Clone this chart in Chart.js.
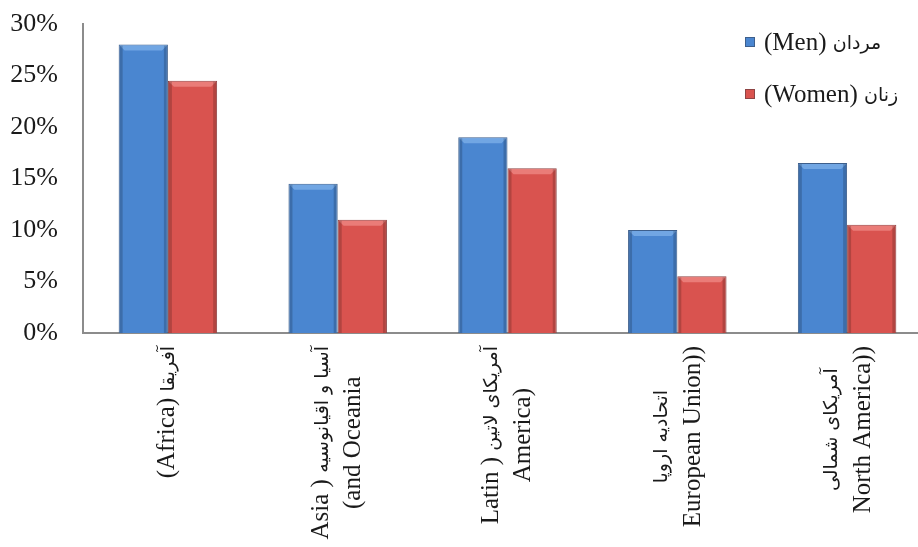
<!DOCTYPE html>
<html>
<head>
<meta charset="utf-8">
<script src="https://cdn.jsdelivr.net/npm/chart.js@4/dist/chart.umd.min.js"></script>
<style>
  html, body { margin: 0; padding: 0; background: #fff; overflow: hidden; }
  #wrap { width: 940px; height: 547px; }
</style>
</head>
<body>
<div id="wrap"><canvas id="c" width="940" height="547"></canvas></div>
<script>
// ---- data ----
const categories = [
  ["(Africa) آفریقا"],
  ["Asia ) آسیا و اقیانوسیه", "(and Oceania"],
  ["Latin ) آمریکای لاتین", "America)"],
  ["اتحادیه اروپا", "European Union))"],
  ["آمریکای شمالی", "North America))"]
];
const seriesNames = ["(Men) مردان", "(Women) زنان"];
const menValues = [28, 14.5, 19, 10, 16.5];
const womenValues = [24.5, 11, 16, 5.5, 10.5];
const yTickStep = 5;
const yMax = 30;

const SERIF = '"Liberation Serif", "Times New Roman", serif';
const ARABIC = '"DejaVu Sans", sans-serif';
const BLUE = '#4a86d0', BLUE_EDGE = '#3d5f8c', BLUE_HI = '#7fb0ea';
const RED = '#d9534f', RED_EDGE = '#8e4444', RED_HI = '#ef8a86';

function runs(str) {
  const re = /([\u0600-\u06FF][\u0600-\u06FF\u200c\s]*[\u0600-\u06FF]|[\u0600-\u06FF])/g;
  const out = [];
  let last = 0, m;
  while ((m = re.exec(str))) {
    if (m.index > last) out.push({ t: str.slice(last, m.index), ar: false });
    out.push({ t: m[0], ar: true });
    last = m.index + m[0].length;
  }
  if (last < str.length) out.push({ t: str.slice(last), ar: false });
  return out;
}
function fontFor(r, latinSize, arSize) {
  return r.ar ? (arSize + 'px ' + ARABIC) : (latinSize + 'px ' + SERIF);
}
function measureMixed(ctx, str, ls, as) {
  let w = 0;
  runs(str).forEach(r => { ctx.font = fontFor(r, ls, as); w += ctx.measureText(r.t).width; });
  return w;
}
function drawMixed(ctx, str, x, y, ls, as) {
  ctx.textAlign = 'left';
  runs(str).forEach(r => {
    ctx.font = fontFor(r, ls, as);
    ctx.fillText(r.t, x, y + (r.ar ? 1 : 0));
    x += ctx.measureText(r.t).width;
  });
}

const X_LATIN = 25, X_AR = 19;

// rotated, centred multi-line category labels at the scale's tick positions
const xLabelPlugin = {
  id: 'xLabels',
  afterDraw(chart) {
    const ctx = chart.ctx;
    const xs = chart.scales.x;
    const top = xs.top + 13;
    const lh = 32;
    ctx.save();
    ctx.fillStyle = '#1a1a1a';
    ctx.textBaseline = 'middle';
    categories.forEach((lines, i) => {
      const x = xs.getPixelForTick(i);
      const widths = lines.map(l => measureMixed(ctx, l, X_LATIN, X_AR));
      const maxW = Math.max(...widths);
      const cy = top + maxW / 2;
      ctx.save();
      ctx.translate(x, cy);
      ctx.rotate(-Math.PI / 2);
      lines.forEach((l, j) => {
        drawMixed(ctx, l, -widths[j] / 2, (j - (lines.length - 1) / 2) * lh, X_LATIN, X_AR);
      });
      ctx.restore();
    });
    ctx.restore();
  }
};

// bevel highlight on each bar, using the library's bar elements
const bevelPlugin = {
  id: 'bevel',
  afterDatasetsDraw(chart) {
    const ctx = chart.ctx;
    chart.data.datasets.forEach((ds, di) => {
      const meta = chart.getDatasetMeta(di);
      const hi = di === 0 ? BLUE_HI : RED_HI;
      meta.data.forEach(el => {
        const l = el.x - el.width / 2 + 1, r = el.x + el.width / 2 - 1;
        const t = el.y + 1;
        ctx.save();
        ctx.globalAlpha = 0.75;
        ctx.fillStyle = hi;
        ctx.beginPath();
        ctx.moveTo(l, t);
        ctx.lineTo(r, t);
        ctx.lineTo(r - 5, t + 5);
        ctx.lineTo(l + 5, t + 5);
        ctx.closePath();
        ctx.fill();
        ctx.globalAlpha = 0.18;
        ctx.fillStyle = '#000';
        ctx.fillRect(l, t, 3, el.base - t);
        ctx.fillRect(r - 3, t, 3, el.base - t);
        ctx.restore();
      });
    });
  }
};

// legend drawn inside the chart area, top right
const legendPlugin = {
  id: 'cornerLegend',
  afterDraw(chart) {
    const ctx = chart.ctx;
    ctx.save();
    ctx.textBaseline = 'middle';
    chart.data.datasets.forEach((d, k) => {
      const cy = 42 + k * 52;
      const sx = 745, sy = cy - 5;
      ctx.fillStyle = d.backgroundColor;
      ctx.fillRect(sx, sy, 10, 10);
      ctx.strokeStyle = d.borderColor;
      ctx.lineWidth = 1;
      ctx.strokeRect(sx + 0.5, sy + 0.5, 9, 9);
      ctx.fillStyle = '#1a1a1a';
      drawMixed(ctx, d.label, 764, cy + 1, 25, 19);
    });
    ctx.restore();
  }
};

new Chart(document.getElementById('c'), {
  type: 'bar',
  data: {
    labels: categories.map(c => c.join(' ')),
    datasets: [
      { label: seriesNames[0], data: menValues, backgroundColor: BLUE, borderColor: BLUE_EDGE,
        borderWidth: 1, categoryPercentage: 0.58, barPercentage: 1 },
      { label: seriesNames[1], data: womenValues, backgroundColor: RED, borderColor: RED_EDGE,
        borderWidth: 1, categoryPercentage: 0.58, barPercentage: 1 }
    ]
  },
  options: {
    responsive: false,
    animation: false,
    devicePixelRatio: 1,
    layout: { padding: { top: 24, right: 8, left: 0, bottom: 0 } },
    plugins: { legend: { display: false }, tooltip: { enabled: false } },
    scales: {
      x: {
        grid: { display: false, drawTicks: false },
        border: { display: true, color: '#8c8c8c', width: 2 },
        ticks: { display: false },
        afterFit(s) { s.height = 214; }
      },
      y: {
        min: 0, max: yMax,
        grid: { display: false, drawTicks: false },
        border: { display: true, color: '#8c8c8c', width: 2 },
        ticks: {
          stepSize: yTickStep,
          callback: v => v + '%',
          font: { family: SERIF, size: 26 },
          color: '#1a1a1a',
          padding: 25
        },
        afterFit(s) { s.width = 83; s.paddingTop = 0; s.paddingBottom = 0; }
      }
    }
  },
  plugins: [bevelPlugin, xLabelPlugin, legendPlugin]
});
</script>
</body>
</html>
